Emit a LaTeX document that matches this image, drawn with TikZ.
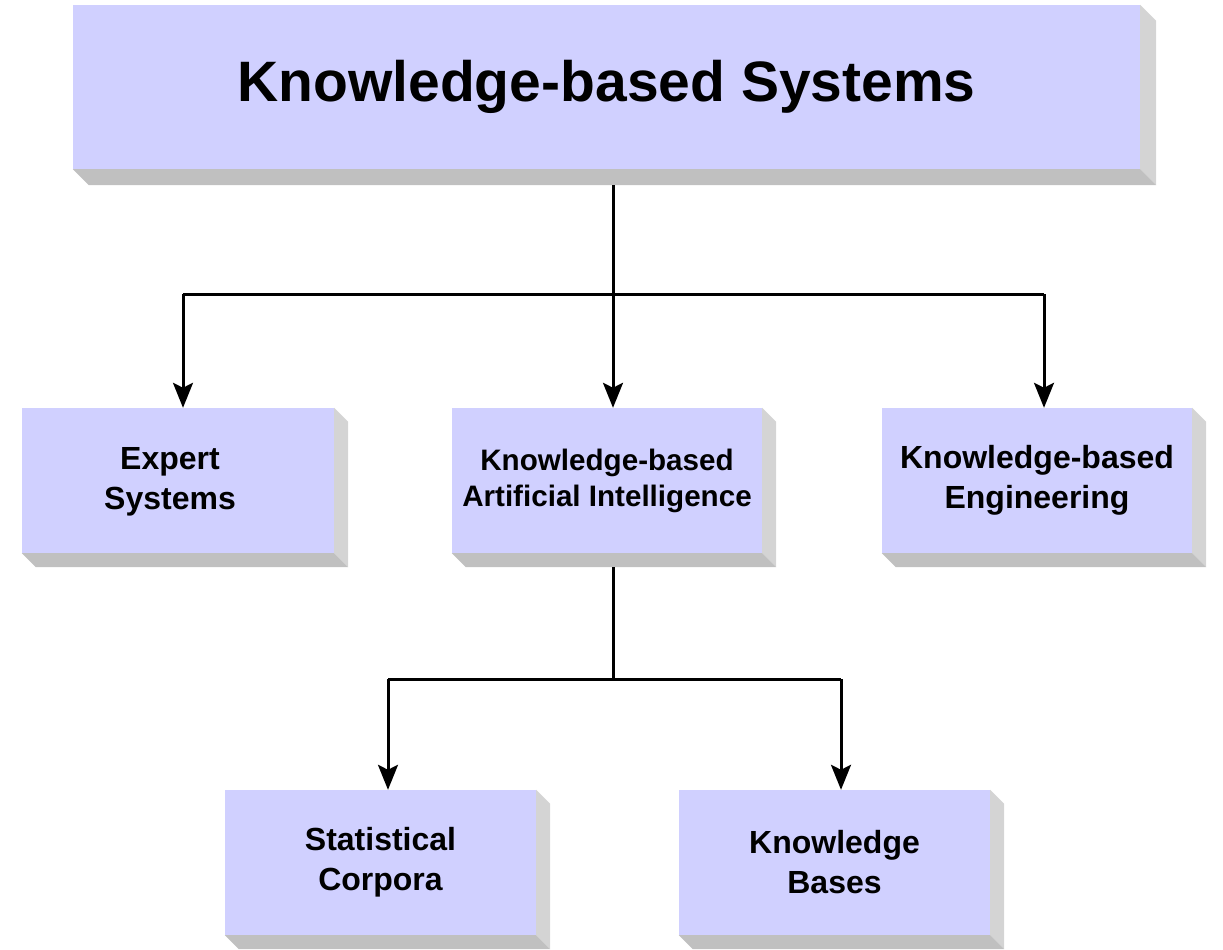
\documentclass[tikz,border=0pt]{standalone}
\usepackage{fontspec}
\setmainfont{Liberation Sans}
\usetikzlibrary{arrows.meta,calc}
\definecolor{facec}{RGB}{208,208,255}
\definecolor{sidec}{RGB}{212,212,212}
\definecolor{botc}{RGB}{192,192,192}
\tikzset{
  box/.style={fill=facec, draw=none, inner sep=0pt, align=center,
    font=\bfseries\fontsize{32}{40}\selectfont},
  lbl/.style={inner sep=0pt, align=center, font=\bfseries\fontsize{32}{40}\selectfont},
  conn/.style={line width=3pt, black},
  arr/.style={conn, -{Stealth[length=25pt,width=20pt,inset=5pt]}},
}
\newcommand{\extrude}[2]{%
  \fill[sidec] (#1.north east) -- ++(#2,#2) -- ($(#1.south east)+(#2,#2)$) -- (#1.south east) -- cycle;
  \fill[botc] (#1.south west) -- (#1.south east) -- ++(#2,#2) -- ($(#1.south west)+(#2,#2)$) -- cycle;
}
\begin{document}
\begin{tikzpicture}[x=1pt,y=-1pt]
\useasboundingbox (0,0) rectangle (1223,950);
% connectors
\coordinate (t0) at (613,185);
\coordinate (j1) at (613,294);
\coordinate (bl) at (183,294);
\coordinate (br) at (1044,294);
\coordinate (m0) at (613,567);
\coordinate (j2) at (613,679);
\coordinate (cl) at (388,679);
\coordinate (cr) at (841,679);
% boxes
\node[box, minimum width=1067pt, minimum height=164pt, font=\bfseries\fontsize{57}{60}\selectfont] (top) at (606.5,87) {Knowledge-based Systems};
\node[box, minimum width=312pt, minimum height=145pt] (es) at (178,480.5) {};
\node[lbl] (estxt) at (170,481.5) {Expert\\Systems};
\node[box, minimum width=310pt, minimum height=145pt, font=\bfseries\fontsize{29.6}{36}\selectfont] (kbai) at (607,480.5) {Knowledge-based\\Artificial Intelligence};
\node[box, minimum width=310pt, minimum height=145pt] (kbe) at (1037,480.5) {Knowledge-based\\Engineering};
\node[box, minimum width=311pt, minimum height=145pt] (sc) at (380.5,862.5) {Statistical\\Corpora};
\node[box, minimum width=311pt, minimum height=145pt] (kb) at (834.5,862.5) {Knowledge\\Bases};
\extrude{top}{16}
\extrude{es}{14}
\extrude{kbai}{14}
\extrude{kbe}{14}
\extrude{sc}{14}
\extrude{kb}{14}
% lines
\draw[conn] (t0) -- (j1);
\draw[conn] (bl) -- (br);
\draw[arr] (bl) -- (bl |- es.north);
\draw[arr] (j1) -- (j1 |- kbai.north);
\draw[arr] (br) -- (br |- kbe.north);
\draw[conn] (m0) -- (j2);
\draw[conn] (cl) -- (cr);
\draw[arr] (cl) -- (cl |- sc.north);
\draw[arr] (cr) -- (cr |- kb.north);
\end{tikzpicture}
\end{document}
